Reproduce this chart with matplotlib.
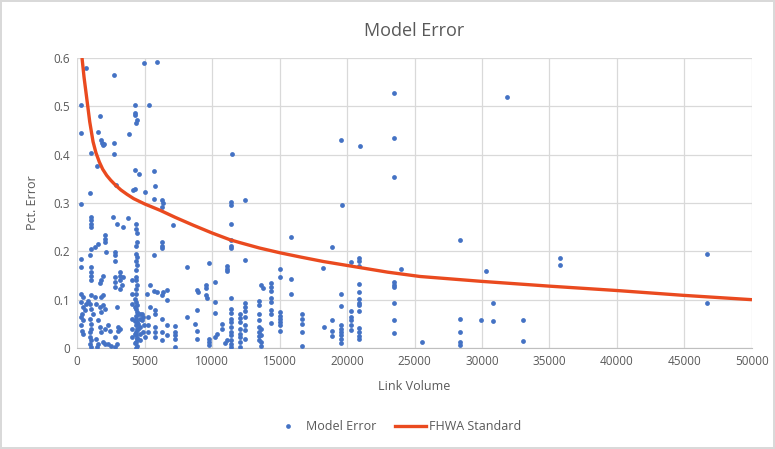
import matplotlib
matplotlib.use("Agg")
import matplotlib.pyplot as plt
from matplotlib.lines import Line2D

plt.rcParams['font.family'] = ['Open Sans', 'DejaVu Sans']

# link volume / percent error pairs, grouped roughly by count station
volume = [
    # upper scatter (errors above ~0.29)
    690, 2741, 4940, 5948, 274, 4274, 5311, 1681, 4274, 4320, 4393, 4467, 319, 1556,
    3852, 1800, 1874, 1926, 2000, 2741, 1059, 2741, 1504, 4274, 4570, 5704, 2911, 4148,
    4274, 5059, 5756, 941, 5704, 6370, 274, 6300, 6300, 11504, 23504, 19556, 20963,
    23504, 23504, 12444, 31830, 19605, 11400, 11400,
    # high volume links
    28370, 46644, 35778, 35778, 30296, 30793, 46644, 28370, 29904, 30837, 33059, 28370,
    28370, 28370, 33059, 25530,
    # 11000 - 25000
    11400, 11400, 11400, 11400, 15850, 18870, 12444, 15037, 15037, 15830, 15830, 18244,
    20274, 20911, 20911, 20911, 24000, 23500, 23500, 23500,
    20911, 20911, 20911, 20911, 20911, 20911, 20911, 20911, 20911, 20911,
    23500, 23500, 23500,
    19550, 19550, 19550, 19550, 19550, 19550, 19550, 19550,
    20274, 20274, 20274, 20274, 20274,
    18890, 18890, 18890, 18300,
    16700, 16700, 16700, 16700, 16700,
    15037, 15037, 15037, 15037, 15037, 15037,
    14360, 14360, 14360, 14360, 14360, 14360, 14360, 14360,
    13600, 13800,
    13450, 13450, 13450, 13450, 13450, 13450, 13450, 13450,
    13650, 13650, 13650, 13650,
    12444, 12444, 12444, 12444, 12444, 12444, 12444,
    12050, 12050, 12050, 12050, 12050, 12050, 12050, 12050,
    11420, 11420, 11420, 11420, 11420, 11420, 11420, 11420, 11420, 11420, 11420,
    11090, 11090, 11090, 11090, 10963,
    # 5000 - 11000
    7136, 6274, 6274, 6274, 8126, 9800, 10222, 9533, 9533, 8911, 8985, 6644, 6393, 6274,
    6689, 9533, 9652, 10222, 8911, 8126, 6274, 6644, 6644, 7259, 7259, 7259, 7259, 7259,
    8741, 8867, 8911, 9800, 9800, 9800, 10222, 10222, 10348, 10719, 10719,
    5728, 5407, 5728, 5900, 5160, 5407, 5778, 5778, 4790, 4900, 4830, 4980, 4900, 5040,
    5281, 5281, 5281, 5778, 5778, 5778, 6274, 6274,
    # dense column near 4400
    4400, 4350, 4420, 4450, 4400, 4380, 4420, 4400, 4450, 4380, 4400, 4350, 4420, 4400,
    4380, 4330, 4400, 4450, 4380, 4420, 4350, 4400, 4450, 4380, 4420, 4400, 4350, 4450,
    4400, 4420, 4380, 4300, 4480, 4300, 4480, 4320, 4470, 4310, 4490,
    4667, 4667, 4667, 4667, 4667,
    4050, 4050, 4050, 4050, 4050, 4050,
    # below 4000
    3800, 3430, 2940, 2815, 2815, 3185, 3185, 3430, 3185, 3311, 3185,
    2940, 3059, 3059, 3185, 2815, 2940,
    1015, 1015, 1015, 1015, 2667, 2096, 2096, 2096, 1556, 1311, 1059, 2170, 2793,
    319, 319, 941, 1015, 1015, 1015, 1015, 1926, 1800, 1681, 2793, 2793, 2793,
    319, 444, 1059, 1311, 1800, 1926, 319, 689, 444, 570, 370, 815, 941, 1430, 1681,
    1926, 2052, 1800, 1059, 1185, 319, 444, 319, 370, 444, 941, 1015, 1059, 941,
    1556, 1681, 1800, 2052, 2296, 2422, 941, 1059, 941, 1059, 1430, 1556, 1504,
    1926, 2096, 2296, 2541, 2793,
]
pct_error = [
    0.579, 0.565, 0.589, 0.592, 0.503, 0.503, 0.503, 0.481, 0.487, 0.483, 0.465, 0.472, 0.444, 0.447,
    0.442, 0.430, 0.425, 0.420, 0.423, 0.425, 0.404, 0.402, 0.376, 0.368, 0.359, 0.366, 0.337, 0.326,
    0.330, 0.323, 0.335, 0.321, 0.309, 0.300, 0.297, 0.306, 0.292, 0.402, 0.527, 0.431, 0.418,
    0.434, 0.354, 0.307, 0.520, 0.295, 0.302, 0.296,
    0.224, 0.194, 0.186, 0.172, 0.159, 0.094, 0.094, 0.060, 0.058, 0.055, 0.058, 0.034,
    0.012, 0.007, 0.014, 0.012,
    0.256, 0.223, 0.212, 0.206, 0.230, 0.210, 0.183, 0.164, 0.147, 0.143, 0.111, 0.165,
    0.177, 0.187, 0.180, 0.170, 0.164, 0.136, 0.131, 0.126,
    0.133, 0.115, 0.101, 0.094, 0.089, 0.076, 0.042, 0.034, 0.025, 0.018,
    0.093, 0.058, 0.031,
    0.112, 0.086, 0.047, 0.040, 0.033, 0.026, 0.019, 0.010,
    0.076, 0.065, 0.057, 0.048, 0.038,
    0.059, 0.036, 0.024, 0.043,
    0.071, 0.061, 0.049, 0.033, 0.005,
    0.074, 0.067, 0.060, 0.053, 0.047, 0.035,
    0.134, 0.126, 0.117, 0.104, 0.095, 0.078, 0.071, 0.052,
    0.130, 0.125,
    0.098, 0.090, 0.071, 0.057, 0.043, 0.033, 0.024, 0.016,
    0.040, 0.026, 0.012, 0.005,
    0.093, 0.085, 0.076, 0.064, 0.048, 0.037, 0.018,
    0.071, 0.063, 0.053, 0.040, 0.030, 0.022, 0.012, 0.002,
    0.103, 0.081, 0.072, 0.061, 0.053, 0.043, 0.033, 0.026, 0.016, 0.009, 0.002,
    0.169, 0.164, 0.159, 0.016, 0.010,
    0.255, 0.219, 0.212, 0.207, 0.168, 0.175, 0.136, 0.130, 0.124, 0.121, 0.116, 0.121, 0.116, 0.109,
    0.100, 0.109, 0.103, 0.095, 0.078, 0.065, 0.060, 0.047, 0.026, 0.045, 0.033, 0.026, 0.019, 0.002,
    0.050, 0.036, 0.019, 0.019, 0.012, 0.007, 0.072, 0.022, 0.029, 0.050, 0.040,
    0.192, 0.130, 0.119, 0.116, 0.111, 0.085, 0.078, 0.071, 0.071, 0.064, 0.057, 0.047, 0.033, 0.022,
    0.064, 0.047, 0.033, 0.043, 0.033, 0.022, 0.033, 0.016,
    0.257, 0.247, 0.237, 0.219, 0.212, 0.195, 0.188, 0.181, 0.171, 0.161, 0.147, 0.140, 0.130, 0.123,
    0.112, 0.102, 0.095, 0.088, 0.081, 0.074, 0.067, 0.060, 0.053, 0.047, 0.040, 0.033, 0.026, 0.019,
    0.012, 0.005, 0.001, 0.085, 0.070, 0.055, 0.040, 0.030, 0.020, 0.010, 0.050,
    0.071, 0.060, 0.043, 0.029, 0.016,
    0.140, 0.112, 0.092, 0.060, 0.040, 0.022,
    0.268, 0.250, 0.257, 0.192, 0.181, 0.157, 0.150, 0.147, 0.140, 0.130, 0.123,
    0.085, 0.043, 0.036, 0.040, 0.022, 0.009,
    0.271, 0.264, 0.257, 0.250, 0.271, 0.233, 0.226, 0.219, 0.216, 0.209, 0.204, 0.199, 0.199,
    0.185, 0.167, 0.192, 0.167, 0.157, 0.150, 0.140, 0.150, 0.140, 0.134, 0.147, 0.136, 0.126,
    0.112, 0.105, 0.109, 0.105, 0.105, 0.109, 0.095, 0.092, 0.085, 0.078, 0.071, 0.098, 0.092, 0.092, 0.085,
    0.088, 0.081, 0.074, 0.081, 0.071, 0.064, 0.057, 0.047, 0.036, 0.029, 0.060, 0.050, 0.040, 0.033,
    0.057, 0.043, 0.033, 0.040, 0.047, 0.036, 0.022, 0.016, 0.009, 0.002, 0.019, 0.009, 0.002,
    0.012, 0.009, 0.009, 0.005, 0.003,
]

# FHWA maximum desirable error curve
fhwa_volume = [370, 520, 690, 941, 1185, 1400, 1650, 1900, 2200, 2500, 2850, 3250, 3700,
               4200, 5015, 6148, 7300, 8617, 10000, 11333, 12074, 13500, 15037, 16600,
               18244, 20837, 23000, 25407, 29926, 35000, 39975, 44911, 50000]
fhwa_error = [0.600, 0.560, 0.523, 0.468, 0.427, 0.404, 0.385, 0.370, 0.357, 0.347, 0.337,
              0.327, 0.318, 0.309, 0.298, 0.285, 0.270, 0.254, 0.238, 0.224, 0.218, 0.207,
              0.197, 0.188, 0.179, 0.167, 0.157, 0.148, 0.138, 0.128, 0.119, 0.109, 0.100]

blue = '#4472C4'
red = '#EA4A1F'
txt = '#595959'

fig = plt.figure(figsize=(7.75, 4.49), dpi=100)
fig.patch.set_edgecolor('#d9d9d9')
fig.patch.set_linewidth(1.5)
ax = fig.add_axes([0.0994, 0.2249, 0.8709, 0.6459])

ax.scatter(volume, pct_error, s=12, color=blue, linewidths=0, zorder=3)
ax.plot(fhwa_volume, fhwa_error, color=red, lw=2.4, zorder=4,
        solid_capstyle='butt', solid_joinstyle='round')

ax.set_xlim(0, 50000)
ax.set_ylim(0, 0.6)
ax.set_xticks(range(0, 50001, 5000))
ax.set_yticks([0, 0.1, 0.2, 0.3, 0.4, 0.5, 0.6])
ax.set_yticklabels(['0', '0.1', '0.2', '0.3', '0.4', '0.5', '0.6'])
ax.grid(True, color='#d9d9d9', lw=0.9, zorder=0)
ax.set_axisbelow(True)
for s in ['top', 'right', 'left']:
    ax.spines[s].set_visible(False)
ax.spines['bottom'].set_color('#bfbfbf')
ax.tick_params(length=0, labelsize=8.5, labelcolor=txt, pad=5)

ax.set_title('Model Error', fontsize=13, color=txt, pad=16)
ax.set_xlabel('Link Volume', fontsize=9, color=txt, labelpad=9)
ax.set_ylabel('Pct. Error', fontsize=9, color=txt, labelpad=10)

handles = [
    Line2D([], [], marker='o', ls='none', ms=3.4, color=blue, markeredgewidth=0),
    Line2D([], [], color=red, lw=2.4),
]
fig.legend(handles, ['Model Error', 'FHWA Standard'], loc='center', bbox_to_anchor=(0.512, 0.049),
           ncol=2, frameon=False, fontsize=9, labelcolor=txt, handlelength=2.5,
           columnspacing=1.5, handletextpad=0.2)

fig.savefig('out.png', dpi=100, edgecolor=fig.get_edgecolor())
